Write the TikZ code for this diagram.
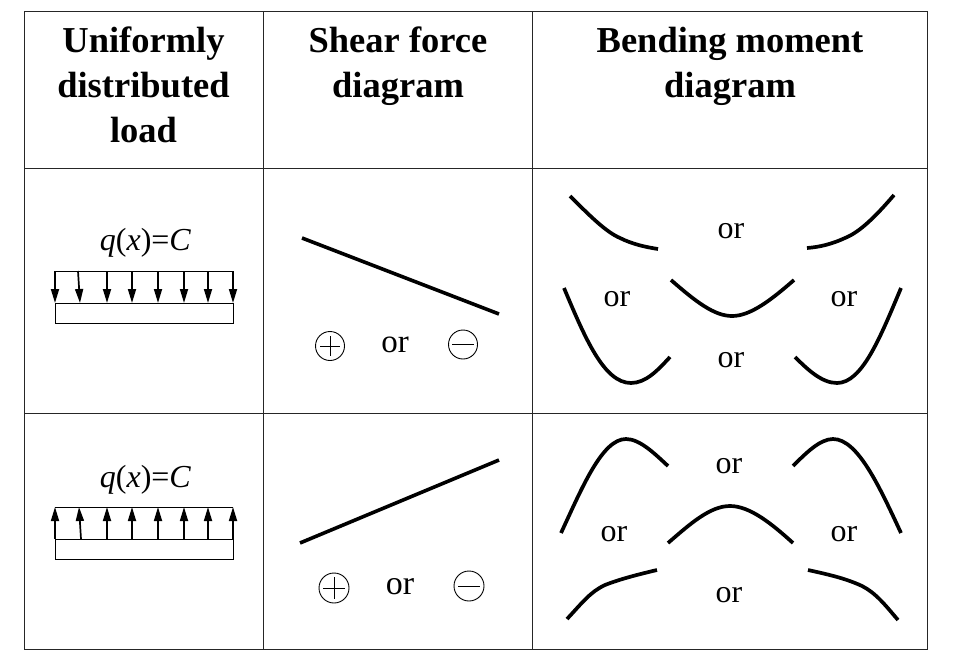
\documentclass[tikz,border=0pt]{standalone}
\usepackage{fontspec}
\setmainfont{Liberation Serif}
\usetikzlibrary{arrows.meta}
\tikzset{
 grid/.style={line width=.8pt,draw=black!85},
 hd/.style={font=\fontsize{36.5}{45}\selectfont\bfseries,align=center,inner sep=0pt,anchor=north},
 ortxt/.style={font=\fontsize{32}{34}\selectfont,inner sep=0pt},
 orbig/.style={font=\fontsize{33}{35}\selectfont,inner sep=0pt},
 qlab/.style={font=\fontsize{32}{34}\selectfont,inner sep=0pt},
 curve/.style={line width=3.7pt,line cap=butt},
 sl/.style={line width=3.6pt},
 load/.style={line width=.9pt},
 arr/.style={line width=1.7pt,-{Triangle[length=14pt,width=8pt]}},
 sign/.style={circle,draw,line width=.9pt,minimum size=#1,inner sep=0pt},
}
\begin{document}
\begin{tikzpicture}[x=1pt,y=-1pt]
\useasboundingbox (0,0) rectangle (960,664);
\draw[grid] (24,11) rectangle (927,649);
\draw[grid] (263,11) -- (263,649) (532,11) -- (532,649) (24,168) -- (927,168) (24,413) -- (927,413);
\node[hd] (h1) at (143.5,27) {Uniformly\\distributed\\load};
\node[hd] (h2) at (398,27) {Shear force\\diagram};
\node[hd] (h3) at (730,27) {Bending moment\\diagram};
\node[qlab] (q1) at (145.5,243) {\textit{q}(\textit{x})=\textit{C}};
\node[qlab] (q2) at (145.5,480) {\textit{q}(\textit{x})=\textit{C}};
% load 1
\draw[load] (55,303) rectangle (233,323);
\draw[load] (55,271) -- (233,271);
\foreach \x in {55,107,132,158,184,208,233} \draw[arr] (\x,271) -- (\x,303);
\draw[arr] (78,271) -- (80,303);
% load 2
\draw[load] (55,539) rectangle (233,559);
\draw[load] (55,507) -- (233,507);
\foreach \x in {55,107,132,158,184,208,233} \draw[arr] (\x,539) -- (\x,507);
\draw[arr] (81,539) -- (79,507);
% shear
\draw[sl] (302,238) -- (499,314);
\draw[sl] (300,543) -- (499,460);
\node[sign=29pt] (p1) at (330,346) {};
\draw[line width=1pt] (p1.center)+(-10,0) -- +(10,0) (p1.center)+(0,-10) -- +(0,10);
\node[sign=29pt] (m1) at (463,344.5) {};
\draw[line width=1pt] (m1.center)+(-11,0) -- +(11,0);
\node[orbig] (or1) at (395,345) {or};
\node[sign=30pt] (p2) at (334,588) {};
\draw[line width=1pt] (p2.center)+(-11,0) -- +(11,0) (p2.center)+(0,-11) -- +(0,11);
\node[sign=30pt] (m2) at (469,586) {};
\draw[line width=1pt] (m2.center)+(-11,0) -- +(11,0);
\node[orbig,font=\fontsize{34}{36}\selectfont] (or2) at (400,587) {or};
% moment row 1
\draw[curve] (570,196) .. controls (590,216) and (606,232) .. (620,238) .. controls (632,244) and (645,247) .. (658,249);
\draw[curve] (894,195) .. controls (876,216) and (860,232) .. (845,238) .. controls (832,244) and (820,247) .. (807,248);
\draw[curve] (671,280) .. controls (695,301) and (714,316) .. (732,316) .. controls (750,316) and (770,301) .. (794,280);
\draw[curve] (564,288) .. controls (585,338) and (604,383) .. (631,383) .. controls (646,383) and (658,370) .. (670,357);
\draw[curve] (901,288) .. controls (880,338) and (862,383) .. (837,383) .. controls (822,383) and (808,370) .. (795,357);
\node[ortxt] (a1) at (731,231) {or};
\node[ortxt] (a2) at (617,299) {or};
\node[ortxt] (a3) at (844,299) {or};
\node[ortxt] (a4) at (731,360) {or};
% moment row 2
\draw[curve] (561,533) .. controls (582,488) and (602,439) .. (626,439) .. controls (640,439) and (655,454) .. (668,466);
\draw[curve] (793,466) .. controls (806,453) and (820,439) .. (833,439) .. controls (858,439) and (880,488) .. (901,533);
\draw[curve] (668,543) .. controls (690,524) and (710,506) .. (730,506) .. controls (750,506) and (772,524) .. (793,543);
\draw[curve] (567,619) .. controls (582,603) and (590,592) .. (605,585) .. controls (620,579) and (640,574) .. (657,570);
\draw[curve] (808,570) .. controls (826,574) and (845,578) .. (862,586) .. controls (876,593) and (886,606) .. (898,620);
\node[ortxt] (b1) at (729,466) {or};
\node[ortxt] (b2) at (614,534) {or};
\node[ortxt] (b3) at (844,534) {or};
\node[ortxt] (b4) at (729,595) {or};
\end{tikzpicture}
\end{document}
